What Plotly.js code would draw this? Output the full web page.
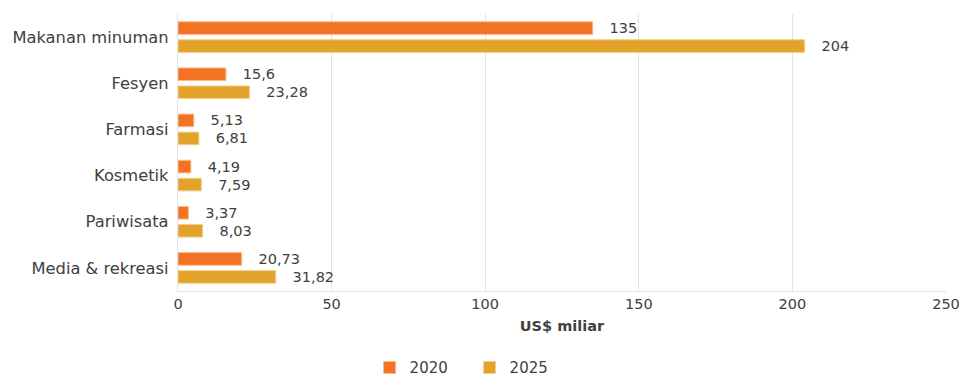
<!DOCTYPE html>
<html>
<head>
<meta charset="utf-8">
<script src="https://cdn.plot.ly/plotly-3.0.1.min.js"></script>
<style>html,body{margin:0;padding:0;background:#fff;}#chart{width:960px;height:376px;}</style>
</head>
<body>
<div id="chart"></div>
<script>
const categories = ["Makanan minuman", "Fesyen", "Farmasi", "Kosmetik", "Pariwisata", "Media & rekreasi"];
const values2020 = [135, 15.6, 5.13, 4.19, 3.37, 20.73];
const values2025 = [204, 23.28, 6.81, 7.59, 8.03, 31.82];
const seriesNames = ["2020", "2025"];
const xTicks = [0, 50, 100, 150, 200, 250];

const pad = "\u00a0\u00a0\u00a0";
const fmt = v => pad + String(v).replace('.', ',');
const FONT = "DejaVu Sans, Verdana, sans-serif";
const labelFont = {family: FONT, size: 14.5, color: "#404040"};

const traces = [
  {type: "bar", orientation: "h", name: seriesNames[0], y: categories, x: values2020,
   text: values2020.map(fmt), textposition: "outside", constraintext: "none", textfont: labelFont, cliponaxis: false,
   marker: {color: "#F47322", line: {color: "#FBB98A", width: 1}}, hoverinfo: "x+y"},
  {type: "bar", orientation: "h", name: seriesNames[1], y: categories, x: values2025,
   text: values2025.map(fmt), textposition: "outside", constraintext: "none", textfont: labelFont, cliponaxis: false,
   marker: {color: "#E3A22A", line: {color: "#F2D08E", width: 1}}, hoverinfo: "x+y"}
];

const layout = {
  width: 960, height: 376,
  margin: {l: 178, r: 14, t: 14, b: 85},
  paper_bgcolor: "#fff", plot_bgcolor: "#fff",
  font: {family: FONT, size: 14.5, color: "#404040"},
  barmode: "group", bargap: 0.22, bargroupgap: 0.3,
  showlegend: true,
  legend: {orientation: "h", xref: "container", yref: "container", x: 0.385, xanchor: "left",
           y: 0.022, yanchor: "middle", entrywidth: 55, entrywidthmode: "pixels",
           font: {family: FONT, size: 15, color: "#404040"}, itemwidth: 30},
  xaxis: {range: [0, 250], tickvals: xTicks, ticktext: xTicks.map(String), automargin: false,
          showgrid: true, gridcolor: "#E3E3E3", gridwidth: 1, zeroline: false,
          showline: true, linecolor: "#E3E3E3", ticks: "", tickfont: {family: FONT, size: 14.5, color: "#404040"},
          title: {text: "<b>US$ miliar</b>", font: {family: FONT, size: 14.5, color: "#404040"}, standoff: 9}},
  yaxis: {autorange: "reversed", showline: true, linecolor: "#E3E3E3", ticks: "",
          ticksuffix: " ", tickfont: {family: FONT, size: 16.3, color: "#404040"}, showgrid: false}
};

Plotly.newPlot("chart", traces, layout, {displayModeBar: false, staticPlot: true});
</script>
</body>
</html>
